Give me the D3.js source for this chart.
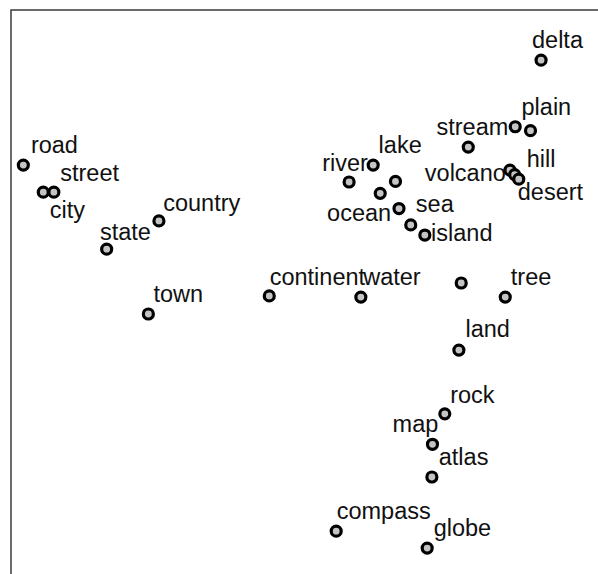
<!DOCTYPE html>
<html lang="en">
  <head>
    <meta charset="UTF-8" />
    <title>Word map</title>
    <script src="https://d3js.org/d3.v7.min.js"></script>
    <style>
      body {
        margin: 0;
        background: #fff;
      }
      text {
        font-family: 'Liberation Sans', Arial, sans-serif;
      }
    </style>
  </head>
  <body>
    <div id="chart"></div>

    <script>
      // point coordinates (two scaling dimensions), '' = point without a label
      const words = [
        'road', 'city', 'street', 'state', 'country', 'town',
        'continent', 'water', '', 'tree', 'land', 'rock', 'map', 'atlas',
        'compass', 'globe', 'delta', 'plain', '', 'stream',
        'volcano', 'hill', 'desert', 'lake', 'river', '', 'ocean', 'sea',
        '', 'island'
      ];
      const dim1 = [
        -0.479, -0.445, -0.427, -0.337, -0.248, -0.266,
        -0.060, 0.096, 0.267, 0.342, 0.263, 0.239, 0.218, 0.217,
        0.054, 0.209, 0.403, 0.385, 0.359, 0.279,
        0.350, 0.358, 0.365, 0.117, 0.076, 0.155, 0.129, 0.161,
        0.181, 0.205
      ];
      const dim2 = [
        0.225, 0.177, 0.177, 0.076, 0.126, -0.039,
        -0.007, -0.009, 0.016, -0.009, -0.103, -0.216, -0.270, -0.328,
        -0.424, -0.454, 0.411, 0.286, 0.293, 0.257,
        0.216, 0.208, 0.200, 0.225, 0.195, 0.196, 0.175, 0.148,
        0.119, 0.101
      ];
      // label anchors (from the label placement), same units as the points
      const labelX = [
        -0.426, -0.404, -0.366, -0.305, -0.175, -0.215,
        0.022, 0.149, null, 0.386, 0.312, 0.286, 0.189, 0.271,
        0.135, 0.269, 0.431, 0.412, null, 0.286,
        0.274, 0.403, 0.419, 0.163, 0.069, null, 0.093, 0.222,
        null, 0.268
      ];
      const labelY = [
        0.247, 0.132, 0.197, 0.093, 0.144, -0.018,
        0.012, 0.012, null, 0.012, -0.080, -0.196, -0.248, -0.307,
        -0.403, -0.433, 0.432, 0.313, null, 0.278,
        0.196, 0.222, 0.163, 0.246, 0.215, null, 0.126, 0.142,
        null, 0.091
      ];

      const width = 598;
      const height = 574;

      const points = words.map((w, i) => ({
        word: w,
        x: dim1[i],
        y: dim2[i],
        lx: labelX[i],
        ly: labelY[i]
      }));

      const svg = d3
        .select('#chart')
        .append('svg')
        .attr('width', width)
        .attr('height', height);

      const x = d3.scaleLinear().domain([-0.5, 0.5]).range([11, 598]);
      const y = d3.scaleLinear().domain([-0.5, 0.5]).range([574, 10]);

      // plot frame (only top and left edges are inside the picture)
      svg
        .append('rect')
        .attr('x', 11)
        .attr('y', 10)
        .attr('width', 800)
        .attr('height', 800)
        .attr('fill', 'none')
        .attr('stroke', '#3a3a3a')
        .attr('stroke-width', 1.5);

      // labels first, the points sit on top of them
      svg
        .append('g')
        .selectAll('text')
        .data(points.filter(d => d.word !== ''))
        .join('text')
        .attr('x', d => x(d.lx))
        .attr('y', d => y(d.ly))
        .attr('text-anchor', 'middle')
        .attr('font-size', 23.5)
        .attr('fill', '#111')
        .text(d => d.word);

      svg
        .append('g')
        .selectAll('circle')
        .data(points)
        .join('circle')
        .attr('cx', d => x(d.x))
        .attr('cy', d => y(d.y))
        .attr('r', 5)
        .attr('fill', '#c4c4c4')
        .attr('stroke', '#000')
        .attr('stroke-width', 3.2);
    </script>
  </body>
</html>
